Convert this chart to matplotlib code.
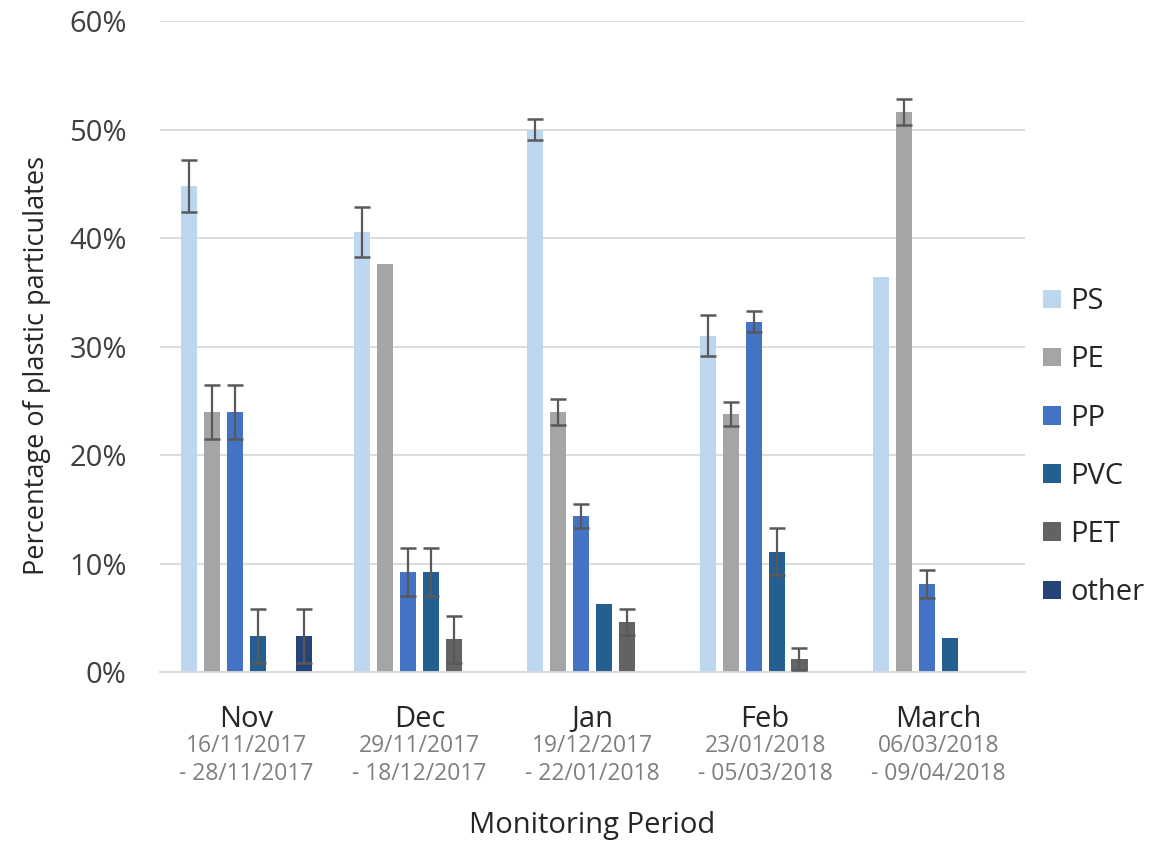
import matplotlib
matplotlib.use("Agg")
import matplotlib.pyplot as plt
import matplotlib.transforms as mtransforms
import numpy as np

plt.rcParams['font.family'] = ['Open Sans', 'DejaVu Sans']

months = ["Nov", "Dec", "Jan", "Feb", "March"]
date_ranges = ["16/11/2017\n- 28/11/2017", "29/11/2017\n- 18/12/2017",
               "19/12/2017\n- 22/01/2018", "23/01/2018\n- 05/03/2018",
               "06/03/2018\n- 09/04/2018"]
series = ["PS", "PE", "PP", "PVC", "PET", "other"]

ps = [44.8, 40.6, 50.0, 31.0, 36.4]
pe = [24.0, 37.6, 24.0, 23.8, 51.6]
pp = [24.0, 9.2, 14.4, 32.3, 8.1]
pvc = [3.3, 9.2, 6.3, 11.1, 3.1]
pet = [0.0, 3.0, 4.6, 1.2, 0.0]
other = [3.3, 0.0, 0.0, 0.0, 0.0]

ps_err = [2.4, 2.3, 1.0, 1.9, 0.0]
pe_err = [2.5, 0.0, 1.2, 1.1, 1.2]
pp_err = [2.5, 2.2, 1.1, 1.0, 1.3]
pvc_err = [2.5, 2.2, 0.0, 2.2, 0.0]
pet_err = [0.0, 2.2, 1.2, 1.0, 0.0]
other_err = [2.5, 0.0, 0.0, 0.0, 0.0]

values = [ps, pe, pp, pvc, pet, other]
errors = [ps_err, pe_err, pp_err, pvc_err, pet_err, other_err]
colors = ["#BDD7EE", "#A5A5A5", "#4472C4", "#255E91", "#636363", "#264478"]

fig = plt.figure(figsize=(11.63, 8.44), dpi=100)
ax = fig.add_axes([0.1376, 0.2038, 0.7434, 0.7712])

x = np.arange(len(months))
pitch = 0.132
width = 0.093
for i, (name, vals, errs, c) in enumerate(zip(series, values, errors, colors)):
    off = (i - 2.5) * pitch
    v = np.array(vals)
    e = np.array(errs)
    ax.bar(x + off, v, width, color=c, label=name, zorder=2)
    mask = e > 0
    ax.errorbar((x + off)[mask], v[mask], yerr=e[mask], fmt='none',
                ecolor="#595959", elinewidth=1.6, capsize=6, capthick=1.8, zorder=3)

ax.set_xlim(-0.5, 4.5)
ax.set_ylim(0, 60)
ax.set_yticks(np.arange(0, 61, 10))
ax.set_yticklabels([f"{t}%" for t in range(0, 61, 10)], fontsize=21, color="#404040")
ax.yaxis.grid(True, color="#D9D9D9", linewidth=1.3, zorder=0)
ax.set_axisbelow(True)
for s in ["top", "right", "left"]:
    ax.spines[s].set_visible(False)
ax.spines["bottom"].set_color("#D9D9D9")
ax.spines["bottom"].set_linewidth(1.3)
ax.tick_params(axis='both', length=0)
ax.tick_params(axis='y', pad=24)

ax.set_xticks(x)
ax.set_xticklabels(months, fontsize=21, color="#262626")
ax.tick_params(axis='x', pad=24)

trans = mtransforms.blended_transform_factory(ax.transData, fig.transFigure)
for xi, d in zip(x, date_ranges):
    ax.text(xi, 1 - 760 / 844, d, transform=trans, ha='center', va='center',
            fontsize=16.5, color="#7F7F7F", linespacing=1.25)

fig.text(0.5 * (0.1376 + 0.881), 1 - 826 / 844, "Monitoring Period",
         ha='center', va='center', fontsize=21, color="#262626")
fig.text(37 / 1163, 1 - 365 / 844, "Percentage of plastic particulates",
         rotation=90, ha='center', va='center', fontsize=19.5, color="#262626")

leg = fig.legend(loc='upper left', bbox_to_anchor=(1017 / 1163, 1 - 261 / 844),
                 frameon=False, fontsize=21, handlelength=0.62, handleheight=0.6,
                 labelspacing=1.0, handletextpad=0.3)
for t in leg.get_texts():
    t.set_color("#262626")

fig.savefig("out.png", dpi=100, facecolor="white")
